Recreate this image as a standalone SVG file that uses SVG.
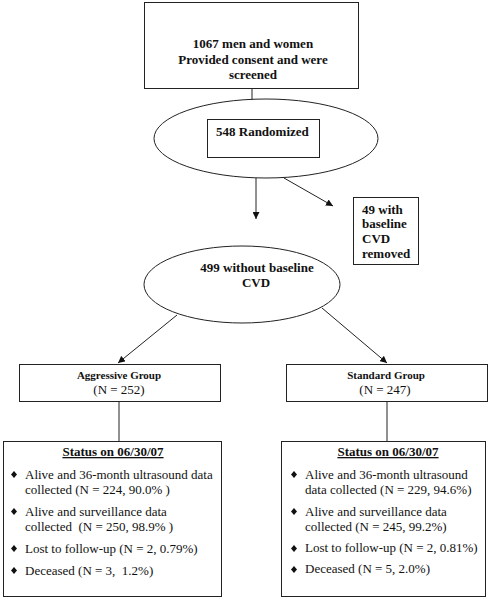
<svg xmlns="http://www.w3.org/2000/svg" width="498" height="600" viewBox="0 0 498 600">
<style>
.box{fill:#fff;stroke:#222;stroke-width:1}
.ln{stroke:#222;stroke-width:1;fill:none}
.t{font-family:"Liberation Serif","Times New Roman",serif;font-size:13px;fill:#111;white-space:pre}
.b{font-weight:bold}
.s{font-size:11px}
.c{text-anchor:middle}
.u{text-decoration:underline}
.dm{fill:#111}
</style>
<defs>
<marker id="ah" viewBox="0 0 10 10" refX="10" refY="5" markerWidth="7" markerHeight="7" markerUnits="userSpaceOnUse" orient="auto">
<path d="M0,0 L10,5 L0,10 z" fill="#111"/>
</marker>
</defs>
<rect width="498" height="600" fill="#fff"/>

<g id="connectors">
<line class="ln" x1="252" y1="89" x2="252" y2="107" marker-end="url(#ah)"/>
<line class="ln" x1="256" y1="178" x2="256" y2="219" marker-end="url(#ah)"/>
<line class="ln" x1="284" y1="178" x2="333" y2="206" marker-end="url(#ah)"/>
<line class="ln" x1="177" y1="315" x2="118" y2="363" marker-end="url(#ah)"/>
<line class="ln" x1="322" y1="308" x2="387" y2="363" marker-end="url(#ah)"/>
<line class="ln" x1="119" y1="402" x2="119" y2="441"/>
<line class="ln" x1="387" y1="402" x2="387" y2="441"/>
</g>

<g id="screened">
<rect class="box" x="144.5" y="2.5" width="214" height="86"/>
<text class="t b c" x="253" y="48">1067 men and women</text>
<text class="t b c" x="253" y="63.5">Provided consent and were</text>
<text class="t b c" x="253" y="79">screened</text>
</g>

<g id="randomized">
<ellipse class="box" cx="266" cy="138.5" rx="112" ry="39.5"/>
<rect class="box" x="207.5" y="119.5" width="112" height="38"/>
<text class="t b" x="216" y="136">548 Randomized</text>
</g>

<g id="removed">
<rect class="box" x="353.5" y="197.5" width="65" height="67"/>
<text class="t b" x="362" y="213.5">49 with</text>
<text class="t b" x="362" y="228.3">baseline</text>
<text class="t b" x="362" y="243">CVD</text>
<text class="t b" x="362" y="257.7">removed</text>
</g>

<g id="without">
<ellipse class="box" cx="242" cy="284.5" rx="98" ry="38.5"/>
<text class="t b c" x="257" y="272">499 without baseline</text>
<text class="t b c" x="256" y="287">CVD</text>
</g>

<g id="aggressive">
<rect class="box" x="19.5" y="364.5" width="201" height="37"/>
<text class="t b s c" x="119" y="379">Aggressive Group</text>
<text class="t c" x="119" y="394">(N = 252)</text>
</g>

<g id="standard">
<rect class="box" x="286.5" y="364.5" width="201" height="37"/>
<text class="t b s c" x="386" y="379">Standard Group</text>
<text class="t c" x="385" y="394">(N = 247)</text>
</g>

<g id="aggressive-status">
<rect class="box" x="3.5" y="441.5" width="218" height="155"/>
<text class="t b c u" x="113" y="456">Status on 06/30/07</text>
<polygon class="dm" points="14,471 17,474.5 14,478 11,474.5"/>
<text class="t" x="25" y="479">Alive and 36-month ultrasound data</text>
<text class="t" x="25" y="494">collected (N = 224, 90.0% )</text>
<polygon class="dm" points="14,508 17,511.5 14,515 11,511.5"/>
<text class="t" x="25" y="516">Alive and surveillance data</text>
<text class="t" x="25" y="531">collected  (N = 250, 98.9% )</text>
<polygon class="dm" points="14,545 17,548.5 14,552 11,548.5"/>
<text class="t" x="25" y="553">Lost to follow-up (N = 2, 0.79%)</text>
<polygon class="dm" points="14,567 17,570.5 14,574 11,570.5"/>
<text class="t" x="25" y="575">Deceased (N = 3,  1.2%)</text>
</g>

<g id="standard-status">
<rect class="box" x="281.5" y="441.5" width="204" height="155"/>
<text class="t b c u" x="388" y="456">Status on 06/30/07</text>
<polygon class="dm" points="294,471 297,474.5 294,478 291,474.5"/>
<text class="t" x="305" y="479">Alive and 36-month ultrasound</text>
<text class="t" x="305" y="494">data collected (N = 229, 94.6%)</text>
<polygon class="dm" points="294,508 297,511.5 294,515 291,511.5"/>
<text class="t" x="305" y="516">Alive and surveillance data</text>
<text class="t" x="305" y="531">collected (N = 245, 99.2%)</text>
<polygon class="dm" points="294,545 297,548.5 294,552 291,548.5"/>
<text class="t" x="305" y="552">Lost to follow-up (N = 2, 0.81%)</text>
<polygon class="dm" points="294,566 297,569.5 294,573 291,569.5"/>
<text class="t" x="305" y="573">Deceased (N = 5, 2.0%)</text>
</g>
</svg>
